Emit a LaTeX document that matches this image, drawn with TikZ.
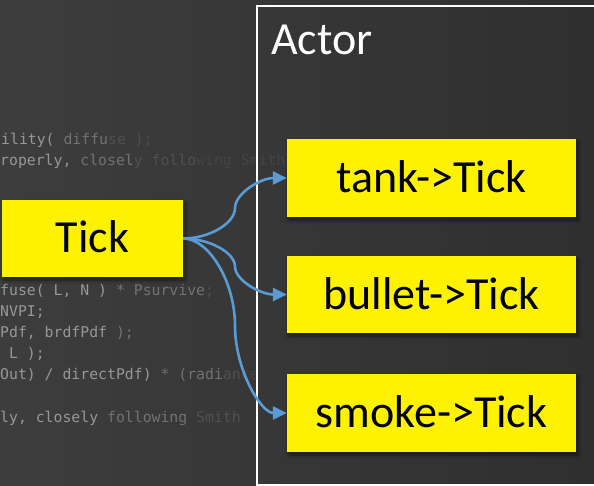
\documentclass[tikz,border=0pt]{standalone}
\usepackage{fontspec}
\setmainfont{Carlito}
\newfontfamily\codefont{DejaVu Sans Mono}
\usetikzlibrary{arrows.meta,calc,shadows.blur}

\definecolor{bgl}{HTML}{3D3D3D}
\definecolor{bgr}{HTML}{2F2F2F}
\definecolor{linkblue}{HTML}{5B9BD5}
\definecolor{codehi}{HTML}{979797}
\definecolor{codemid}{HTML}{727272}
\definecolor{codelo}{HTML}{505050}
\definecolor{codefaint}{HTML}{444444}

\tikzset{
  box/.style={fill=yellow, inner sep=0pt, text=black,
    font=\fontsize{46}{50}\selectfont, text height=29pt, text depth=0pt,
    blur shadow={shadow xshift=2pt, shadow yshift=-3pt,
                 shadow blur radius=4pt, shadow opacity=55}},
  link/.style={draw=linkblue, line width=2.6pt,
    -{Triangle[length=14pt,width=13pt]}},
  code/.style={anchor=base west, inner sep=0pt,
    font=\codefont\fontsize{14.8}{17}\selectfont},
}

% curved connector from the Tick box to the west side of a target box
\newcommand\tickarrow[1]{%
  \coordinate (a1) at ($(tick.east)!0.25!(#1.west)$);
  \coordinate (a2) at ($(tick.east)!0.5!(#1.west)$);
  \coordinate (a3) at ($(tick.east)!0.75!(#1.west)$);
  \draw[link] (tick.east) .. controls (a1 |- tick.east) and (a2 |- a1) .. (a2)
    .. controls (a2 |- a3) and (a3 |- #1.west) .. (#1.west);
}

\begin{document}
\begin{tikzpicture}[x=1pt,y=-1pt]
\useasboundingbox (0,0) rectangle (594,486);
\clip (0,0) rectangle (594,486);
\shade[left color=bgl, right color=bgr] (0,0) rectangle (594,486);

% source code in the background, fading out to the right
\node[code] (c1) at (1,145) {\color{codehi}ility( \color{codemid}diffu\color{codelo}se );};
\node[code] (c2) at (0,166) {\color{codehi}roperly, \color{codemid}closel\color{codelo}y follo\color{codefaint}wing Smith};
\node[code] (c4) at (0,295) {\color{codehi}fuse( L, N ) \color{codemid}* Psurvive\color{codelo};};
\node[code] (c5) at (0,316) {\color{codehi}NVPI;};
\node[code] (c6) at (0,337) {\color{codehi}Pdf, brdfPdf \color{codemid});};
\node[code] (c7) at (0,358) {\color{codehi}\ L );};
\node[code] (c8) at (0,379) {\color{codehi}Out) / directPdf) \color{codemid}* (radi\color{codelo}an\color{codefaint}ce};
\node[code] (c9) at (0,422) {\color{codehi}ly, closely \color{codemid}following \color{codelo}Smith};

% the actor container
\node[draw=white, line width=2pt, anchor=north west, inner sep=0pt,
      minimum width=384pt, minimum height=479pt] (actor) at (256,5) {};
\node[anchor=base west, inner sep=0pt, text=white,
      font=\fontsize{46}{50}\selectfont] (actorlabel) at (271,55) {Actor};

% boxes
\node[box, minimum width=181pt, minimum height=77pt] (tick) at (92.5,238.5) {Tick};
\node[box, minimum width=289pt, minimum height=78pt] (tank) at (431.5,178) {tank->Tick};
\node[box, minimum width=289pt, minimum height=77pt] (bullet) at (431.5,294.5) {bullet->Tick};
\node[box, minimum width=289pt, minimum height=78pt] (smoke) at (431.5,413) {smoke->Tick};

% calls
\tickarrow{tank}
\tickarrow{bullet}
\tickarrow{smoke}
\end{tikzpicture}
\end{document}
